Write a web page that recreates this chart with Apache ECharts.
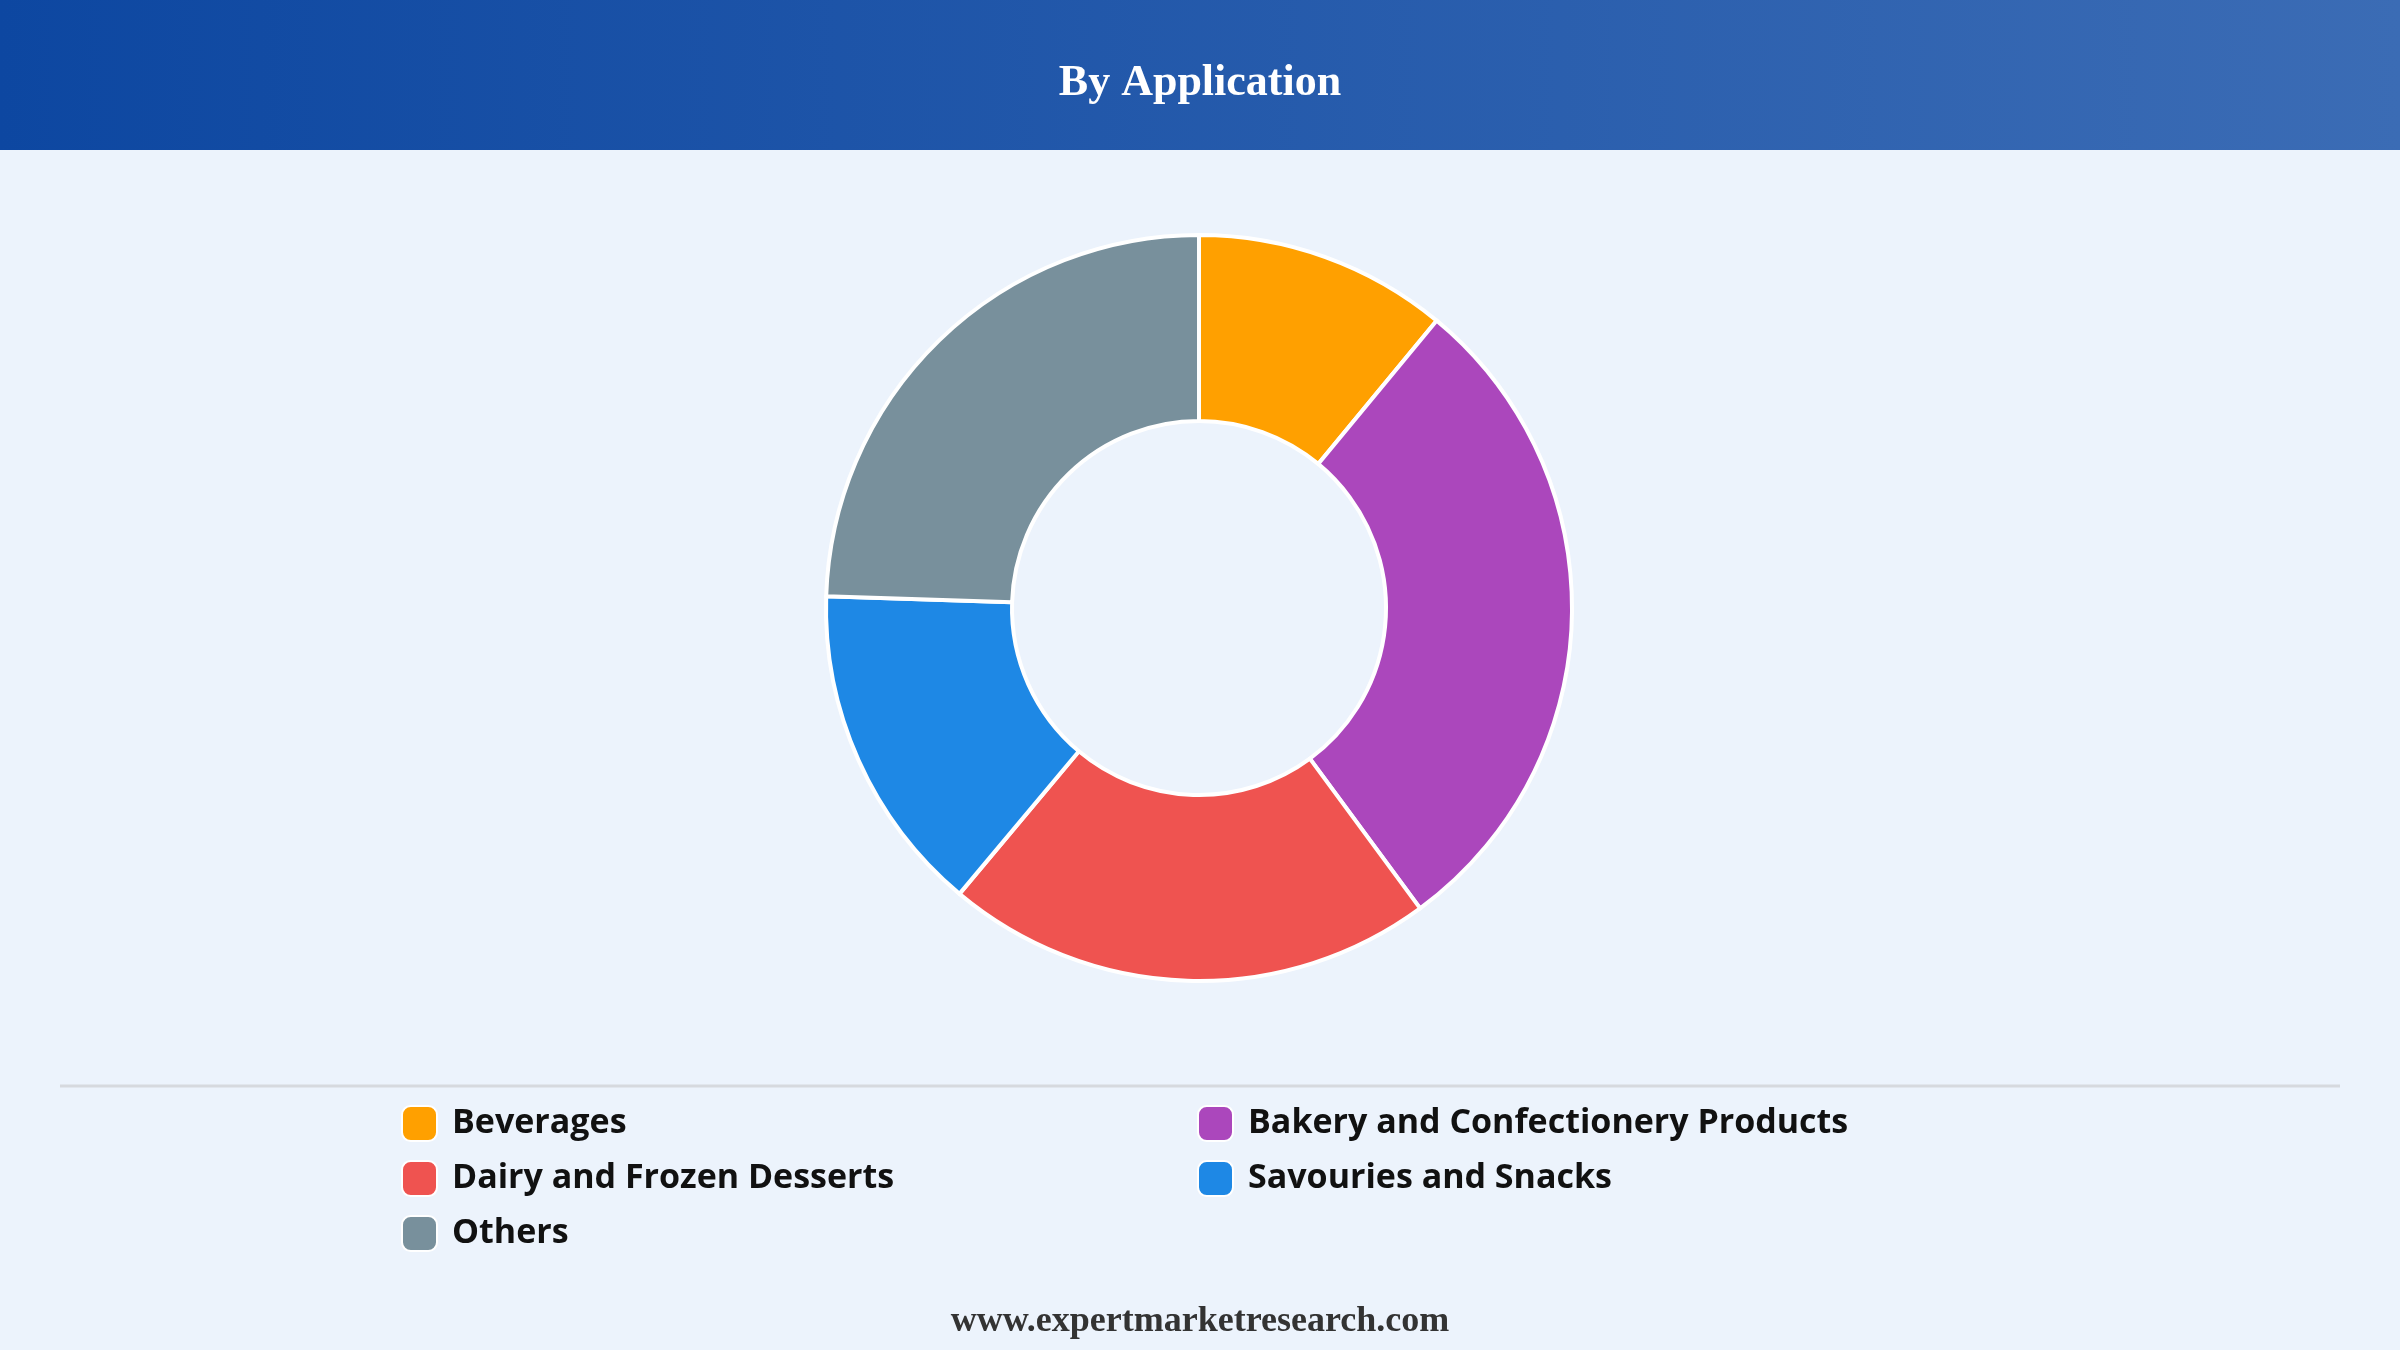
<!DOCTYPE html>
<html>
<head>
<meta charset="utf-8">
<style>
  html, body { margin: 0; padding: 0; background: #ecf3fc; }
  #chart { width: 2400px; height: 1350px; }
</style>
<script src="https://cdn.jsdelivr.net/npm/echarts@6/dist/echarts.min.js"></script>
</head>
<body>
<div id="chart"></div>
<script>
const categories = ['Beverages', 'Bakery and Confectionery Products', 'Dairy and Frozen Desserts', 'Savouries and Snacks', 'Others'];
const shares = [11.0, 28.9, 21.2, 14.4, 24.5];
const colors = ['#ffa000', '#ab47bc', '#ef5350', '#1e88e5', '#78909c'];

const chart = echarts.init(document.getElementById('chart'));

const legendText = {
    fontFamily: '"Open Sans", "Noto Sans", sans-serif',
    fontWeight: 'bold',
    fontSize: 34,
    color: '#111',
    padding: [0, 0, 0, 10]
};

chart.setOption({
    backgroundColor: '#ecf3fc',
    color: colors,
    graphic: [
        {
            type: 'rect',
            left: 0, top: 0,
            shape: { width: 2400, height: 150 },
            style: {
                fill: new echarts.graphic.LinearGradient(0, 0, 1, 0, [
                    { offset: 0, color: '#0d47a1' },
                    { offset: 1, color: '#3b6cb5' }
                ])
            },
            z: -1
        },
        {
            type: 'text',
            left: 'center', top: 62,
            style: {
                text: 'By Application',
                fill: '#fff',
                font: 'bold 44px "Liberation Serif", "DejaVu Serif", serif'
            }
        },
        {
            type: 'line',
            shape: { x1: 60, y1: 1086, x2: 2340, y2: 1086 },
            style: { stroke: '#d6d9de', lineWidth: 3 }
        },
        {
            type: 'text',
            left: 'center', top: 1304,
            style: {
                text: 'www.expertmarketresearch.com',
                fill: '#333',
                font: 'bold 36px "Liberation Serif", "DejaVu Serif", serif'
            }
        }
    ],
    legend: [
        {
            orient: 'vertical',
            left: 396, top: 1100,
            itemWidth: 35, itemHeight: 35, itemGap: 18,
            icon: 'roundRect',
            textStyle: legendText,
            data: [categories[0], categories[2], categories[4]]
        },
        {
            orient: 'vertical',
            left: 1192, top: 1100,
            itemWidth: 35, itemHeight: 35, itemGap: 18,
            icon: 'roundRect',
            textStyle: legendText,
            data: [categories[1], categories[3]]
        }
    ],
    series: [
        {
            type: 'pie',
            center: [1199, 608],
            radius: [187, 373],
            startAngle: 90,
            clockwise: true,
            label: { show: false },
            labelLine: { show: false },
            itemStyle: { borderColor: '#fff', borderWidth: 4 },
            data: categories.map((name, i) => ({ name: name, value: shares[i] }))
        }
    ]
});
</script>
</body>
</html>
